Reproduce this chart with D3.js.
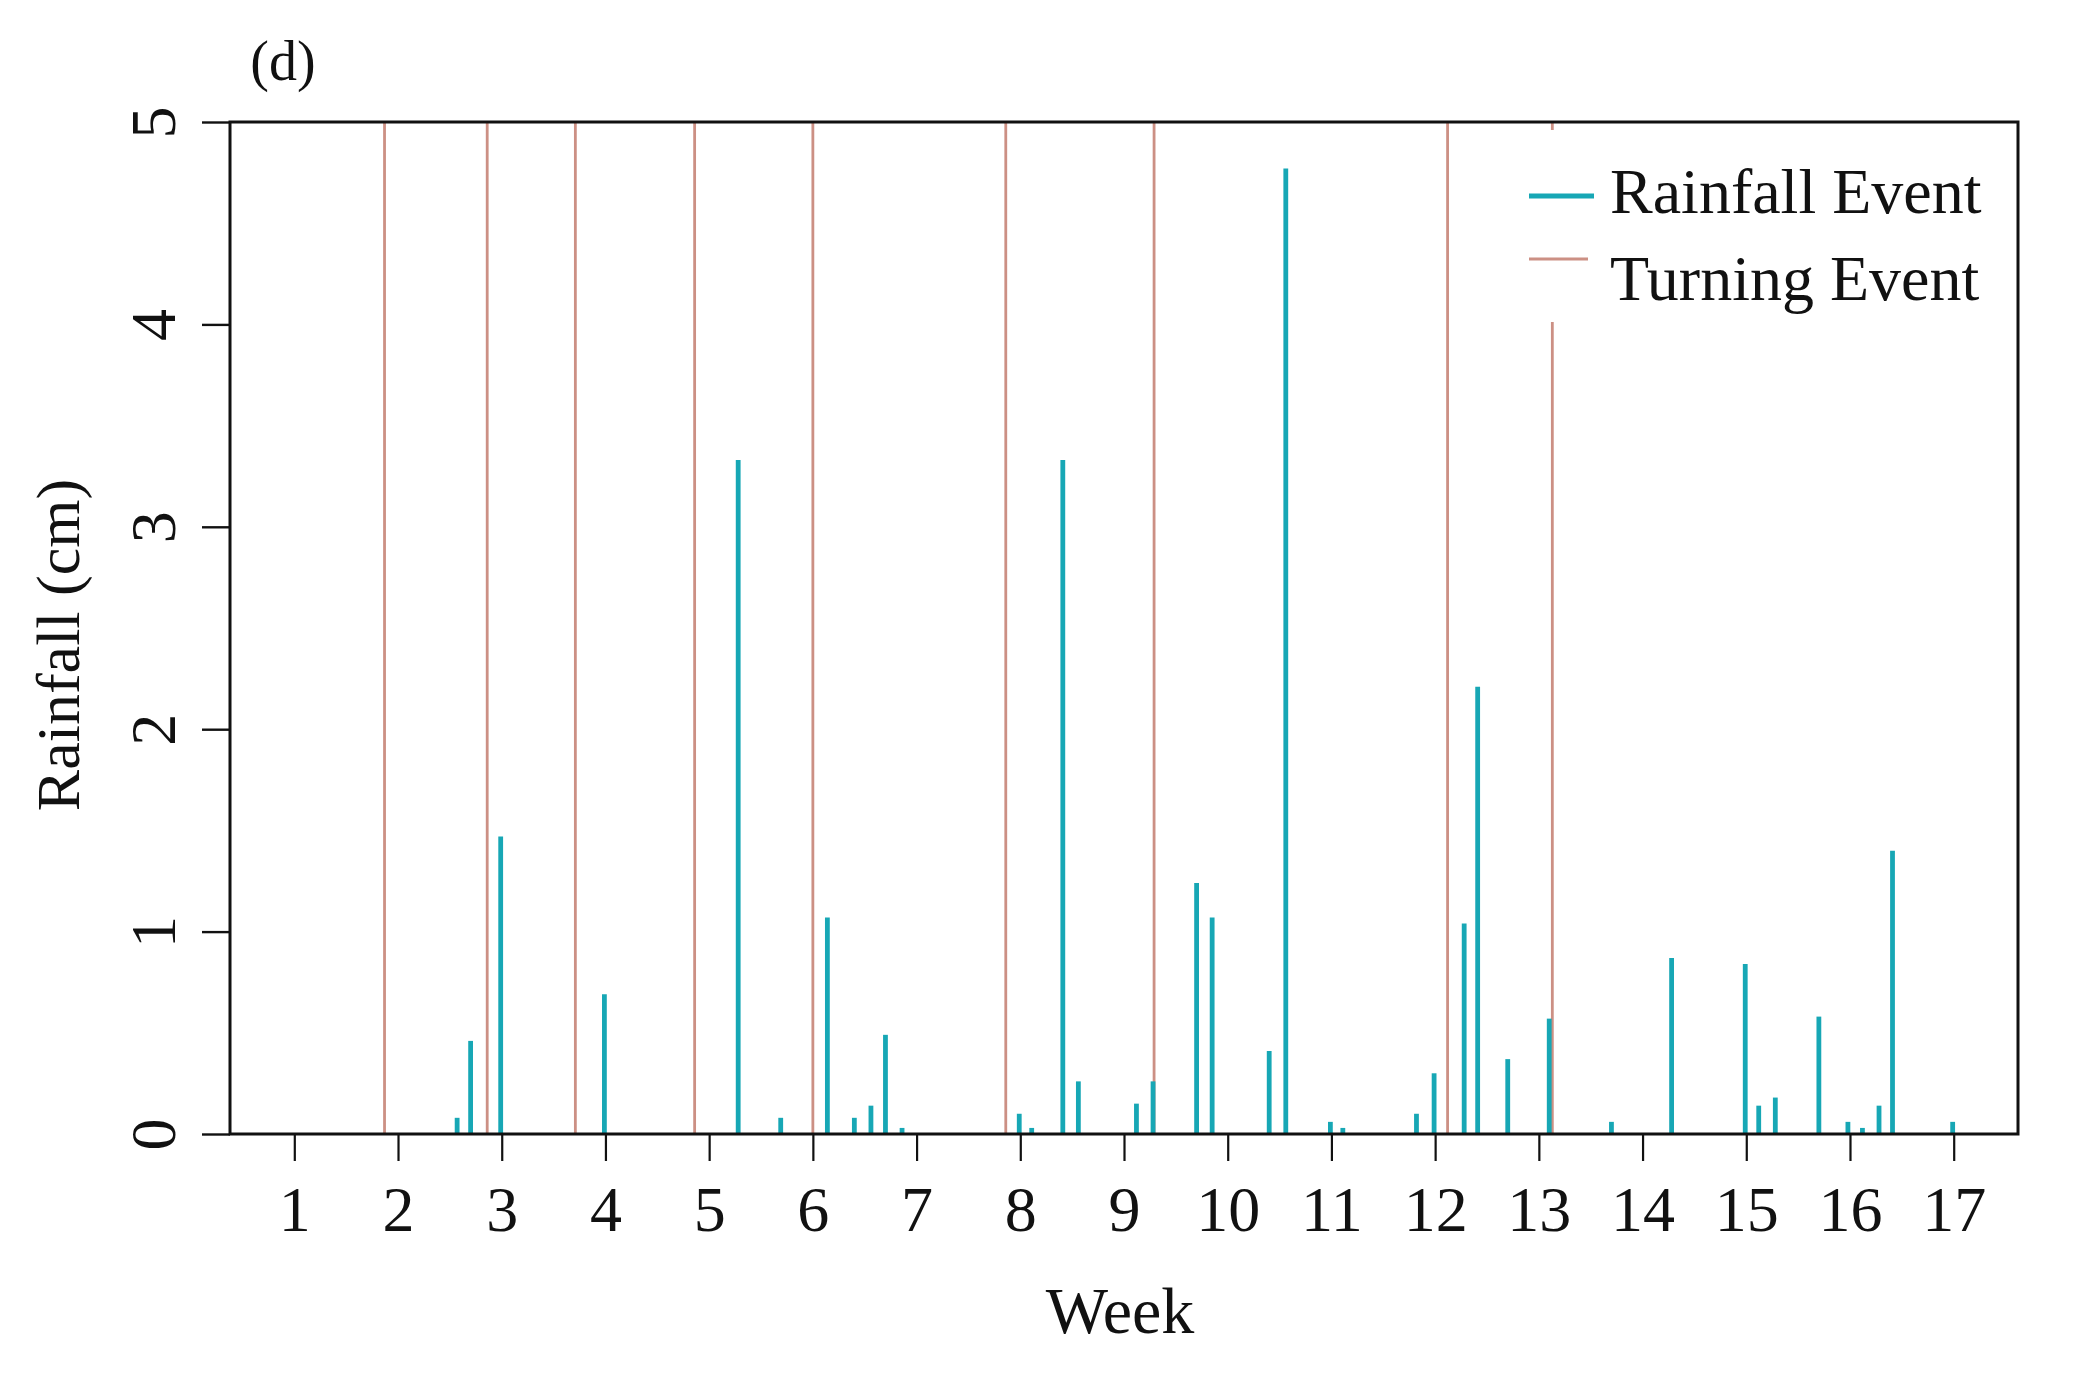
<!DOCTYPE html>
<html>
<head>
<meta charset="utf-8">
<script src="https://cdn.jsdelivr.net/npm/d3@7"></script>
<style>
    body { margin: 0; background: #fff; }
    text { font-family: "Liberation Serif", "Times New Roman", serif; fill: #111; }
</style>
</head>
<body>
<svg id="chart" width="2100" height="1384"></svg>
<script>
// Weeks (decimal) where the field was turned
const turningWeeks = [1.87, 2.86, 3.71, 4.86, 6.00, 7.86, 9.29, 12.12, 13.13];

// Rainfall events: week (decimal) and depth in cm
const rainWeeks = [2.57, 2.70, 2.99, 3.99, 5.28, 5.69, 6.14, 6.40, 6.56, 6.70, 6.86,
    7.99, 8.11, 8.41, 8.56, 9.12, 9.28, 9.70, 9.85, 10.40, 10.56, 10.99, 11.11,
    11.82, 11.99, 12.28, 12.41, 12.70, 13.10, 13.70, 14.28, 14.99, 15.12, 15.28,
    15.70, 15.98, 16.12, 16.28, 16.41, 16.99];
const rainCm = [0.08, 0.46, 1.47, 0.69, 3.33, 0.08, 1.07, 0.08, 0.14, 0.49, 0.03,
    0.10, 0.03, 3.33, 0.26, 0.15, 0.26, 1.24, 1.07, 0.41, 4.77, 0.06, 0.03,
    0.10, 0.30, 1.04, 2.21, 0.37, 0.57, 0.06, 0.87, 0.84, 0.14, 0.18,
    0.58, 0.06, 0.03, 0.14, 1.40, 0.06];

const weekTicks = d3.range(1, 18);
const rainTicks = [0, 1, 2, 3, 4, 5];
const legendLabels = ['Rainfall Event', 'Turning Event'];

const rainColor = '#17a7b5';
const turnColor = '#cc9084';

class RainfallChart {
    constructor() {
        this.svg = d3.select('#chart');
        this.box = { left: 230, right: 2018, top: 122, bottom: 1134 };

        this.x = d3.scaleLinear()
            .domain([0.38, 17.62])
            .range([this.box.left, this.box.right]);
        this.y = d3.scaleLinear()
            .domain([0, 5])
            .range([this.box.bottom, this.box.top]);

        this.svg.append('rect')
            .attr('width', 2100).attr('height', 1384)
            .attr('fill', '#fff');

        this.renderTurning();
        this.renderRain();
        this.renderLegend();
        this.renderAxes();
        this.renderLabels();
    }

    renderTurning() {
        this.svg.append('g')
            .selectAll('line')
            .data(turningWeeks)
            .enter().append('line')
            .attr('x1', d => this.x(d)).attr('x2', d => this.x(d))
            .attr('y1', this.y(0)).attr('y2', this.y(5))
            .attr('stroke', turnColor)
            .attr('stroke-width', 2.8);
    }

    renderRain() {
        const events = rainWeeks.map((w, i) => ({ week: w, cm: rainCm[i] }));
        this.svg.append('g')
            .selectAll('line')
            .data(events)
            .enter().append('line')
            .attr('x1', d => this.x(d.week)).attr('x2', d => this.x(d.week))
            .attr('y1', this.y(0)).attr('y2', d => this.y(d.cm))
            .attr('stroke', rainColor)
            .attr('stroke-width', 4.8);
    }

    renderLegend() {
        const g = this.svg.append('g');
        // pasted-in legend box covers the lines behind it
        g.append('rect')
            .attr('x', 1515).attr('y', 130)
            .attr('width', 500).attr('height', 192)
            .attr('fill', '#fff');

        const rows = [
            { label: legendLabels[0], color: rainColor, width: 5, ly: 196, x2: 1594, ty: 213 },
            { label: legendLabels[1], color: turnColor, width: 3, ly: 259, x2: 1588, ty: 300 }
        ];
        rows.forEach(r => {
            g.append('line')
                .attr('x1', 1529).attr('x2', r.x2)
                .attr('y1', r.ly).attr('y2', r.ly)
                .attr('stroke', r.color)
                .attr('stroke-width', r.width);
            g.append('text')
                .attr('x', 1610).attr('y', r.ty)
                .attr('font-size', 64)
                .text(r.label);
        });
    }

    renderAxes() {
        const xAxis = this.svg.append('g')
            .attr('transform', `translate(0,${this.box.bottom})`)
            .call(d3.axisBottom(this.x).tickValues(weekTicks).tickSize(27).tickPadding(25));
        xAxis.select('.domain').remove();
        xAxis.selectAll('.tick line').attr('stroke', '#111').attr('stroke-width', 2.2);
        xAxis.selectAll('.tick text')
            .attr('font-size', 64)
            .attr('font-family', '"Liberation Serif", serif');

        const yAxis = this.svg.append('g')
            .attr('transform', `translate(${this.box.left},0)`)
            .call(d3.axisLeft(this.y).tickValues(rainTicks).tickFormat(d3.format('d')).tickSize(28));
        yAxis.select('.domain').remove();
        yAxis.selectAll('.tick line').attr('stroke', '#111').attr('stroke-width', 2.4);
        yAxis.selectAll('.tick text')
            .attr('font-size', 64)
            .attr('font-family', '"Liberation Serif", serif')
            .attr('x', 0).attr('y', 0).attr('dy', 0)
            .attr('text-anchor', 'middle')
            .attr('transform', 'translate(-55,0) rotate(-90)');

        // plot frame
        this.svg.append('rect')
            .attr('x', this.box.left).attr('y', this.box.top)
            .attr('width', this.box.right - this.box.left)
            .attr('height', this.box.bottom - this.box.top)
            .attr('fill', 'none')
            .attr('stroke', '#111')
            .attr('stroke-width', 3);
    }

    renderLabels() {
        this.svg.append('text')
            .attr('x', 1120).attr('y', 1333)
            .attr('text-anchor', 'middle')
            .attr('font-size', 66)
            .text('Week');

        this.svg.append('text')
            .attr('transform', 'translate(79,645) rotate(-90)')
            .attr('text-anchor', 'middle')
            .attr('font-size', 62)
            .text('Rainfall (cm)');

        this.svg.append('text')
            .attr('x', 283).attr('y', 80)
            .attr('text-anchor', 'middle')
            .attr('font-size', 56)
            .text('(d)');
    }
}

new RainfallChart();
</script>
</body>
</html>
